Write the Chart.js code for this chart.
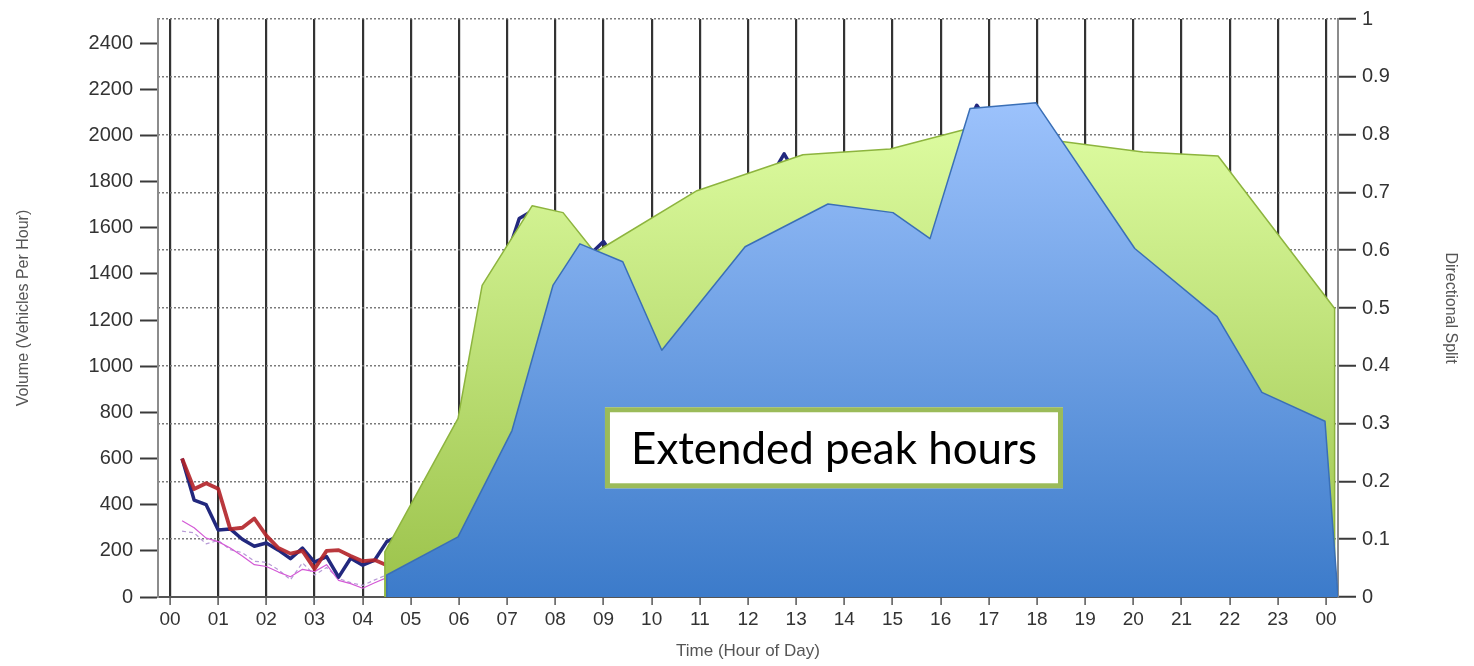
<!DOCTYPE html>
<html>
<head>
<meta charset="utf-8">
<title>Volume and directional split by hour</title>
<script src="https://cdn.jsdelivr.net/npm/chart.js@4.4.0/dist/chart.umd.min.js"></script>
<style>
  html, body { margin: 0; padding: 0; background: #fff; }
  #wrap { position: relative; width: 1474px; height: 666px; }
</style>
</head>
<body>
<div id="wrap"><canvas id="myChart"></canvas></div>
<script>
// tick labels
var hourTicks = [0, 1, 2, 3, 4, 5, 6, 7, 8, 9, 10, 11, 12, 13, 14, 15, 16, 17, 18, 19, 20, 21, 22, 23, 24];
var volumeTicks = [0, 200, 400, 600, 800, 1000, 1200, 1400, 1600, 1800, 2000, 2200, 2400];
var splitTicks = [0, 0.1, 0.2, 0.3, 0.4, 0.5, 0.6, 0.7, 0.8, 0.9, 1];

// quarter-hour counts, early morning (visible part)
var earlyHours = [0.25, 0.5, 0.75, 1, 1.25, 1.5, 1.75, 2, 2.25, 2.5, 2.75, 3, 3.25, 3.5, 3.75, 4, 4.25, 4.5];
var navyEarly = [600, 420, 400, 290, 295, 250, 220, 234, 203, 166, 212, 151, 175, 86, 168, 138, 160, 240];
var redEarly = [600, 468, 493, 469, 294, 300, 340, 266, 212, 188, 200, 121, 200, 203, 178, 155, 160, 138];
var pinkEarly = [330, 300, 255, 240, 212, 178, 140, 132, 108, 88, 120, 110, 140, 72, 58, 38, 62, 84];
var violetEarly = [285, 278, 230, 245, 205, 192, 155, 150, 118, 75, 148, 95, 128, 80, 62, 50, 74, 96];

// rest of the day (mostly behind the highlight shapes)
var navyLateHours = [4.75, 5, 5.5, 6, 6.25, 6.5, 6.75, 7, 7.25, 7.5, 7.75, 8, 8.5, 8.75, 9, 9.25, 9.5, 10, 10.5, 11,
  11.5, 12, 12.5, 12.75, 13, 13.5, 14, 15, 15.5, 16, 16.5, 16.75, 17, 17.5, 18, 18.5, 19, 20, 21, 22, 23, 24];
var navyLate = [265, 350, 520, 760, 1000, 1300, 1420, 1480, 1640, 1670, 1620, 1500, 1470, 1490, 1540, 1460, 1420, 1350, 1450, 1600,
  1700, 1760, 1830, 1920, 1830, 1850, 1870, 1900, 1930, 1950, 2020, 2130, 2050, 2080, 2050, 1900, 1800, 1650, 1500, 1350, 1100, 750];
var redLateHours = [4.75, 5, 5.5, 6, 6.5, 7, 7.5, 8, 9, 10, 11, 12, 13, 14, 15, 16, 17, 18, 19, 20, 21, 22, 23, 24];
var redLate = [170, 230, 420, 680, 1150, 1420, 1550, 1450, 1400, 1300, 1500, 1600, 1700, 1750, 1800, 1850, 1900, 1850, 1700, 1500, 1350, 1250, 1000, 650];
var thinLateHours = [4.75, 5, 6, 7, 8, 9, 10, 11, 12, 13, 14, 15, 16, 17, 18, 19, 20, 21, 22, 23, 24];
var pinkLate = [90, 120, 380, 800, 850, 800, 750, 850, 950, 1000, 1050, 1100, 1150, 1200, 1150, 1050, 900, 800, 700, 550, 350];
var violetLate = [100, 130, 420, 850, 900, 850, 800, 900, 1000, 1050, 1100, 1150, 1200, 1250, 1200, 1100, 950, 850, 750, 600, 400];

// highlight shapes, on the directional split axis
var greenHours = [4.46, 4.46, 5.98, 6.48, 7.52, 8.16, 8.82, 10.94, 13.14, 14.95, 16.46, 18.52, 20.2, 21.76, 24.18, 24.18];
var greenSplit = [0, 0.078, 0.309, 0.539, 0.677, 0.665, 0.596, 0.703, 0.765, 0.775, 0.808, 0.788, 0.77, 0.763, 0.499, 0];
var blueHours = [4.5, 4.5, 5.98, 7.1, 7.95, 8.51, 9.4, 10.21, 11.94, 13.66, 15.01, 15.78, 16.61, 17.98, 20.03, 21.74, 22.67, 23.98, 24.25];
var blueSplit = [0, 0.038, 0.104, 0.288, 0.539, 0.611, 0.58, 0.427, 0.606, 0.68, 0.665, 0.62, 0.845, 0.855, 0.603, 0.485, 0.354, 0.304, 0];

var calloutText = "Extended peak hours";

function pts(hours, values) {
  return hours.map(function(h, i) { return { x: h, y: values[i] }; });
}

function vGradient(top, bottom, maxVal) {
  return function(context) {
    var chart = context.chart;
    if (!chart.chartArea) return top;
    var s = chart.scales.y2;
    var g = chart.ctx.createLinearGradient(0, s.getPixelForValue(maxVal), 0, s.getPixelForValue(0));
    g.addColorStop(0, top);
    g.addColorStop(1, bottom);
    return g;
  };
}

var calloutPlugin = {
  id: "callout",
  afterDatasetsDraw: function(chart) {
    var ctx = chart.ctx;
    var x = chart.scales.x, y = chart.scales.y;
    var left = x.getPixelForValue(9.03), right = x.getPixelForValue(18.54);
    var top = y.getPixelForValue(822), bottom = y.getPixelForValue(471);
    ctx.save();
    ctx.fillStyle = "#ffffff";
    ctx.fillRect(left, top, right - left, bottom - top);
    ctx.strokeStyle = "#9bbb59";
    ctx.lineWidth = 5;
    ctx.strokeRect(left + 2.5, top + 2.5, right - left - 5, bottom - top - 5);
    ctx.font = "40px Lato, 'Open Sans', sans-serif";
    var w = ctx.measureText(calloutText).width;
    var size = 40 * (right - left - 52) / w;
    ctx.font = size + "px Lato, 'Open Sans', sans-serif";
    ctx.fillStyle = "#000";
    ctx.textAlign = "center";
    ctx.textBaseline = "alphabetic";
    ctx.fillText(calloutText, (left + right) / 2, (top + bottom) / 2 + size * 0.37);
    ctx.restore();
  }
};

Chart.defaults.font.family = "'Liberation Sans', Arial, sans-serif";

var ctx = document.getElementById("myChart").getContext("2d");
new Chart(ctx, {
  type: "line",
  data: {
    datasets: [
      {
        label: "Highlight (blue)",
        data: pts(blueHours, blueSplit),
        yAxisID: "y2",
        order: 1,
        fill: "origin",
        borderColor: "#3a6fb6",
        borderWidth: 1.5,
        backgroundColor: vGradient("#9cc2fc", "#3c7bca", 0.855),
        pointRadius: 0
      },
      {
        label: "Highlight (green)",
        data: pts(greenHours, greenSplit),
        yAxisID: "y2",
        order: 2,
        fill: "origin",
        borderColor: "#8db43e",
        borderWidth: 1.5,
        backgroundColor: vGradient("#dcfb9f", "#9bc24a", 0.808),
        pointRadius: 0
      },
      {
        label: "Direction 1",
        data: pts(earlyHours.concat(redLateHours), redEarly.concat(redLate)),
        yAxisID: "y",
        order: 3,
        borderColor: "rgba(178,34,40,0.9)",
        borderWidth: 3.8,
        pointRadius: 0,
        fill: false
      },
      {
        label: "Direction 2",
        data: pts(earlyHours.concat(navyLateHours), navyEarly.concat(navyLate)),
        yAxisID: "y",
        order: 4,
        borderColor: "#22287e",
        borderWidth: 3.5,
        pointRadius: 0,
        fill: false
      },
      {
        label: "Direction 1 (prior)",
        data: pts(earlyHours.concat(thinLateHours), pinkEarly.concat(pinkLate)),
        yAxisID: "y",
        order: 5,
        borderColor: "#d45ad6",
        borderWidth: 1.2,
        pointRadius: 0,
        fill: false
      },
      {
        label: "Direction 2 (prior)",
        data: pts(earlyHours.concat(thinLateHours), violetEarly.concat(violetLate)),
        yAxisID: "y",
        order: 6,
        borderColor: "#b79ad6",
        borderWidth: 1.2,
        borderDash: [4, 3],
        pointRadius: 0,
        fill: false
      }
    ]
  },
  options: {
    responsive: true,
    maintainAspectRatio: false,
    animation: false,
    devicePixelRatio: 1,
    layout: { padding: { top: 18, left: 0, right: 0, bottom: 0 } },
    elements: { line: { tension: 0, borderJoinStyle: "round" } },
    plugins: { legend: { display: false }, tooltip: { enabled: false } },
    scales: {
      x: {
        type: "linear",
        min: -0.25,
        max: 24.25,
        afterBuildTicks: function(s) { s.ticks = hourTicks.map(function(v) { return { value: v }; }); },
        afterFit: function(s) { s.height = 69; },
        grid: { color: "#333", lineWidth: 2.2, tickLength: 8, tickColor: "#555", tickWidth: 1.5 },
        border: { display: true, color: "#555", width: 2 },
        ticks: {
          autoSkip: false, maxRotation: 0, color: "#333", padding: 3,
          font: { size: 19 },
          callback: function(v) { return String(v % 24).padStart(2, "0"); }
        },
        title: {
          display: true, text: "Time (Hour of Day)", color: "#555",
          font: { size: 17 }, padding: { top: 0, bottom: 4 }
        }
      },
      y: {
        position: "left",
        min: 0,
        max: 2504,
        afterBuildTicks: function(s) { s.ticks = volumeTicks.map(function(v) { return { value: v }; }); },
        afterFit: function(s) { s.width = 158; },
        grid: { drawOnChartArea: false, tickLength: 18, tickColor: "#3a3a3a", tickWidth: 2 },
        border: { display: true, color: "#8c8c8c", width: 2 },
        ticks: {
          color: "#333", padding: 7, font: { size: 20 },
          callback: function(v) { return String(v); }
        },
        title: {
          display: true, text: "Volume (Vehicles Per Hour)", color: "#555",
          font: { size: 16 }, padding: { top: 14, bottom: 0 }
        }
      },
      y2: {
        position: "right",
        min: 0,
        max: 1,
        afterBuildTicks: function(s) { s.ticks = splitTicks.map(function(v) { return { value: v }; }); },
        afterFit: function(s) { s.width = 136; },
        grid: { color: "#7a7a7a", lineWidth: 1.5, tickLength: 18, tickColor: "#3a3a3a", tickWidth: 2 },
        border: { display: true, color: "#8c8c8c", width: 2, dash: [2, 2] },
        ticks: {
          color: "#333", padding: 6, font: { size: 20 },
          callback: function(v) { return (v === 0 || v === 1) ? String(v) : v.toFixed(1); }
        },
        title: {
          display: true, text: "Directional Split", color: "#555",
          font: { size: 16 }, padding: { top: 14, bottom: 0 }
        }
      }
    }
  },
  plugins: [calloutPlugin]
});
</script>
</body>
</html>
